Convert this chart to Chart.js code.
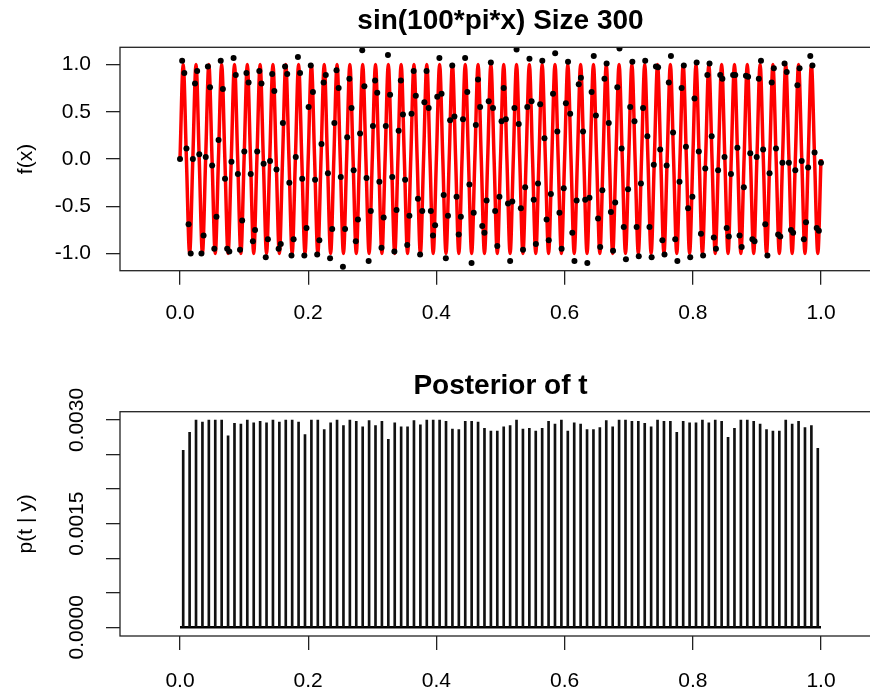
<!DOCTYPE html>
<html>
<head>
<meta charset="utf-8">
<script src="https://cdn.jsdelivr.net/npm/chart.js@4.4.1/dist/chart.umd.min.js"></script>
<style>
  html, body { margin: 0; padding: 0; background: #fff; width: 870px; height: 692px; overflow: hidden; }
  canvas { position: absolute; left: 0; }
</style>
</head>
<body>
<canvas id="topChart" width="900" height="346" style="top:0"></canvas>
<canvas id="bottomChart" width="900" height="346" style="top:346px"></canvas>
<script>
// Curva vermelha: zeros e picos de sin(100*pi*x), lidos a cada 1/4 de período (x de 0 a 1)
const curveY = [
    0, 1, 0, -1, 0, 1, 0, -1, 0, 1, 0, -1, 0, 1, 0, -1, 0, 1, 0, -1,
    0, 1, 0, -1, 0, 1, 0, -1, 0, 1, 0, -1, 0, 1, 0, -1, 0, 1, 0, -1,
    0, 1, 0, -1, 0, 1, 0, -1, 0, 1, 0, -1, 0, 1, 0, -1, 0, 1, 0, -1,
    0, 1, 0, -1, 0, 1, 0, -1, 0, 1, 0, -1, 0, 1, 0, -1, 0, 1, 0, -1,
    0, 1, 0, -1, 0, 1, 0, -1, 0, 1, 0, -1, 0, 1, 0, -1, 0, 1, 0, -1,
    0, 1, 0, -1, 0, 1, 0, -1, 0, 1, 0, -1, 0, 1, 0, -1, 0, 1, 0, -1,
    0, 1, 0, -1, 0, 1, 0, -1, 0, 1, 0, -1, 0, 1, 0, -1, 0, 1, 0, -1,
    0, 1, 0, -1, 0, 1, 0, -1, 0, 1, 0, -1, 0, 1, 0, -1, 0, 1, 0, -1,
    0, 1, 0, -1, 0, 1, 0, -1, 0, 1, 0, -1, 0, 1, 0, -1, 0, 1, 0, -1,
    0, 1, 0, -1, 0, 1, 0, -1, 0, 1, 0, -1, 0, 1, 0, -1, 0, 1, 0, -1,
    0
];

// 300 observações (pontos pretos), x igualmente espaçado de 0 a 1
const obsY = [
    0.00, 1.04, 0.91, 0.11, -0.69, -1.00, 0.00, 0.80, 0.93, 0.05,
    -1.00, -0.81, 0.02, 0.98, 0.76, -0.07, -0.95, -0.61, 0.20, 1.04,
    0.74, -0.21, -0.95, -0.98, -0.03, 1.07, 0.89, -0.16, -0.96, -0.65,
    0.08, 0.91, 0.81, -0.16, -0.87, -0.75, 0.08, 0.93, 0.80, -0.05,
    -1.04, -0.85, -0.02, 0.90, 0.72, -0.11, -0.95, -0.90, 0.38, 0.98,
    0.90, -0.25, -1.02, -0.85, 0.02, 1.08, 0.91, -0.21, -1.02, -0.73,
    0.55, 0.99, 0.71, -0.22, -1.01, -0.86, 0.16, 0.81, 0.89, -0.15,
    -1.05, -0.74, 0.38, 0.94, 0.75, -0.19, -1.14, -0.74, 0.23, 0.85,
    0.54, -0.12, -0.87, -0.64, 0.27, 1.15, 0.77, -0.20, -1.08, -0.55,
    0.35, 0.83, 0.70, -0.24, -0.94, -0.62, 0.35, 1.10, 0.68, -0.19,
    -0.98, -0.54, 0.30, 0.83, 0.47, -0.22, -0.91, -0.60, 0.48, 0.93,
    0.67, -0.42, -1.01, -0.55, 0.60, 0.93, 0.54, -0.55, -0.81, -0.70,
    0.66, 1.07, 0.69, -0.38, -1.05, -0.60, 0.41, 0.99, 0.45, -0.40,
    -0.80, -0.61, 0.42, 1.07, 0.71, -0.27, -1.10, -0.57, 0.36, 0.84,
    0.55, -0.71, -0.78, -0.44, 0.61, 1.02, 0.54, -0.55, -0.92, -0.40,
    0.40, 0.75, 0.42, -0.47, -1.08, -0.45, 0.54, 1.16, 0.37, -0.52,
    -0.96, -0.30, 0.55, 1.06, 0.61, -0.43, -0.90, -0.26, 0.58, 1.04,
    0.22, -0.64, -0.86, -0.37, 0.69, 1.12, 0.29, -0.57, -0.95, -0.31,
    0.59, 1.03, 0.48, -0.78, -1.08, -0.44, 0.79, 0.86, 0.29, -0.43,
    -1.10, -0.41, 0.71, 1.09, 0.46, -0.63, -0.93, -0.33, 0.85, 1.01,
    0.38, -0.56, -0.97, -0.46, 0.76, 1.17, 0.11, -0.72, -1.06, -0.32,
    0.55, 1.03, 0.40, -0.72, -1.03, -0.26, 0.54, 1.04, 0.24, -0.72,
    -1.04, -0.06, 0.98, 0.97, 0.10, -0.86, -1.01, -0.07, 0.81, 1.09,
    0.28, -0.85, -1.08, -0.24, 0.75, 0.99, 0.13, -0.52, -1.04, -0.40,
    0.64, 1.02, 0.08, -0.79, -1.02, -0.10, 0.89, 1.01, 0.24, -0.83,
    -0.95, -0.12, 0.89, 0.85, 0.02, -0.73, -0.82, -0.16, 0.89, 0.89,
    0.12, -0.81, -0.93, -0.30, 0.88, 0.87, 0.06, -0.85, -0.87, 0.02,
    0.85, 1.04, 0.10, -0.69, -1.02, -0.15, 0.81, 0.96, 0.11, -0.80,
    -0.82, -0.04, 1.01, 0.92, -0.04, -0.75, -0.78, -0.12, 0.78, 0.96,
    -0.02, -0.85, -0.67, -0.09, 1.09, 0.99, 0.07, -0.73, -0.76, -0.04
];

// Posterior de t: 100 valores, t = 0.005, 0.015, ..., 0.995
const postT = [
    0.00256, 0.00282, 0.00300, 0.00297, 0.00300, 0.00300, 0.00300, 0.00277, 0.00295, 0.00294,
    0.00300, 0.00296, 0.00298, 0.00296, 0.00300, 0.00297, 0.00300, 0.00300, 0.00297, 0.00279,
    0.00300, 0.00300, 0.00286, 0.00296, 0.00300, 0.00292, 0.00300, 0.00298, 0.00290, 0.00299,
    0.00292, 0.00298, 0.00272, 0.00296, 0.00290, 0.00290, 0.00299, 0.00293, 0.00300, 0.00300,
    0.00300, 0.00298, 0.00287, 0.00286, 0.00298, 0.00298, 0.00297, 0.00288, 0.00284, 0.00284,
    0.00290, 0.00292, 0.00300, 0.00287, 0.00288, 0.00284, 0.00288, 0.00298, 0.00294, 0.00300,
    0.00284, 0.00296, 0.00294, 0.00286, 0.00286, 0.00289, 0.00299, 0.00290, 0.00300, 0.00300,
    0.00298, 0.00298, 0.00295, 0.00290, 0.00300, 0.00298, 0.00298, 0.00282, 0.00298, 0.00296,
    0.00296, 0.00300, 0.00296, 0.00300, 0.00298, 0.00275, 0.00288, 0.00300, 0.00300, 0.00298,
    0.00294, 0.00286, 0.00284, 0.00284, 0.00300, 0.00294, 0.00298, 0.00289, 0.00292, 0.00259
];

// Marcas dos eixos
const xTicks = [0, 0.2, 0.4, 0.6, 0.8, 1.0];
const fTicks = [-1, -0.5, 0, 0.5, 1];
const pTicks = [0, 0.0005, 0.001, 0.0015, 0.002, 0.0025, 0.003];
const pLabels = [0, 0.0015, 0.003];

const FONT = "'Liberation Sans', Arial, Helvetica, sans-serif";
Chart.defaults.font.family = FONT;
Chart.defaults.color = "#000";

// Caixa em volta da área do gráfico (estilo R)
const boxPlugin = {
    id: "box",
    afterDraw(chart) {
        const { ctx, chartArea: a } = chart;
        ctx.save();
        ctx.strokeStyle = "#222";
        ctx.lineWidth = 1.3;
        ctx.strokeRect(a.left, a.top, a.right - a.left, a.bottom - a.top);
        ctx.restore();
    }
};

// Rótulos do eixo y girados (painel de baixo)
const rotLabelsPlugin = {
    id: "rotLabels",
    afterDraw(chart) {
        const s = chart.scales.y;
        const ctx = chart.ctx;
        ctx.save();
        ctx.font = "21px " + FONT;
        ctx.fillStyle = "#000";
        ctx.textAlign = "center";
        ctx.textBaseline = "middle";
        pLabels.forEach(v => {
            ctx.save();
            ctx.translate(s.right - 43, s.getPixelForValue(v));
            ctx.rotate(-Math.PI / 2);
            ctx.fillText(v.toFixed(4), 0, 0);
            ctx.restore();
        });
        ctx.restore();
    }
};

const tickGrid = { drawOnChartArea: false, drawTicks: true, tickLength: 14, color: "#222", lineWidth: 1.3 };

function xScale(height, pad) {
    return {
        type: "linear",
        min: -0.0936,
        max: 1.0936,
        offset: false,
        afterBuildTicks: s => { s.ticks = xTicks.map(v => ({ value: v })); },
        afterFit: s => { s.height = height; },
        grid: { ...tickGrid, offset: false },
        border: { display: false },
        ticks: { font: { size: 21 }, padding: pad, autoSkip: false, maxRotation: 0,
                 callback: v => v.toFixed(1) }
    };
}

function titleOpts(text, top, bottom) {
    return {
        display: true,
        fullSize: false,
        text: text,
        font: { size: 28, weight: "bold" },
        color: "#000",
        padding: { top: top, bottom: bottom }
    };
}

// Painel de cima: sin(100*pi*x)
new Chart(document.getElementById("topChart"), {
    type: "scatter",
    data: {
        datasets: [
            {
                data: obsY.map((y, i) => ({ x: i / 299, y: y })),
                pointRadius: 3,
                pointBackgroundColor: "#000",
                pointBorderWidth: 0
            },
            {
                type: "line",
                showLine: true,
                data: curveY.map((y, j) => ({ x: j / 200, y: y })),
                borderColor: "#ff0000",
                borderWidth: 3.5,
                pointRadius: 0,
                cubicInterpolationMode: "monotone"
            }
        ]
    },
    options: {
        responsive: false,
        animation: false,
        devicePixelRatio: 1,
        layout: { padding: { left: 0, right: 19, top: 0, bottom: 0 } },
        plugins: {
            legend: { display: false },
            tooltip: { enabled: false },
            title: titleOpts("sin(100*pi*x) Size 300", 4, 9.7)
        },
        scales: {
            x: xScale(75.3, 16),
            y: {
                type: "linear",
                min: -1.182,
                max: 1.182,
                afterBuildTicks: s => { s.ticks = fTicks.map(v => ({ value: v })); },
                afterFit: s => { s.width = 120; },
                grid: tickGrid,
                border: { display: false },
                ticks: { font: { size: 21 }, padding: 15, autoSkip: false,
                         callback: v => v.toFixed(1) },
                title: { display: true, text: "f(x)", font: { size: 21 }, padding: { top: 14, bottom: 0 } }
            }
        }
    },
    plugins: [boxPlugin]
});

// Painel de baixo: posterior de t
new Chart(document.getElementById("bottomChart"), {
    type: "bar",
    data: {
        datasets: [
            {
                data: postT.map((p, i) => ({ x: 0.005 + 0.01 * i, y: p })),
                backgroundColor: "#111",
                borderWidth: 0,
                barThickness: 2
            },
            {
                type: "line",
                data: [{ x: 0, y: 0 }, { x: 1, y: 0 }],
                borderColor: "#000",
                borderWidth: 2.5,
                pointRadius: 0
            }
        ]
    },
    options: {
        responsive: false,
        animation: false,
        devicePixelRatio: 1,
        layout: { padding: { left: 0, right: 19, top: 0, bottom: 0 } },
        plugins: {
            legend: { display: false },
            tooltip: { enabled: false },
            title: titleOpts("Posterior of t", 23.2, 8.9)
        },
        scales: {
            x: xScale(56, 19),
            y: {
                type: "linear",
                min: -0.000126,
                max: 0.00312,
                afterBuildTicks: s => { s.ticks = pTicks.map(v => ({ value: v })); },
                afterFit: s => { s.width = 120; },
                grid: tickGrid,
                border: { display: false },
                ticks: { display: false },
                title: { display: true, text: "p(t | y)", font: { size: 21 }, padding: { top: 14, bottom: 0 } }
            }
        }
    },
    plugins: [boxPlugin, rotLabelsPlugin]
});
</script>
</body>
</html>
